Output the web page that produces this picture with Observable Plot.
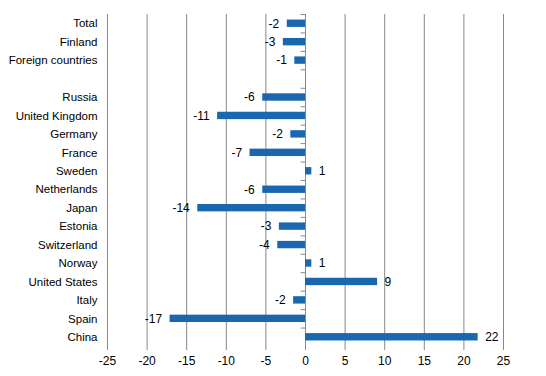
<!DOCTYPE html>
<html>
<head>
<meta charset="utf-8">
<script src="https://cdn.jsdelivr.net/npm/d3@7"></script>
<script src="https://cdn.jsdelivr.net/npm/@observablehq/plot@0.6"></script>
<style>
  html, body { margin: 0; padding: 0; background: #fff; }
  #chart svg { display: block; font-family: "Liberation Sans", Arial, sans-serif; }
</style>
</head>
<body>
<div id="chart"></div>
<script>
const categories = ["Total", "Finland", "Foreign countries", " ", "Russia", "United Kingdom", "Germany", "France", "Sweden", "Netherlands", "Japan", "Estonia", "Switzerland", "Norway", "United States", "Italy", "Spain", "China"];
const values = [-2.3, -2.8, -1.35, null, -5.4, -11.1, -1.85, -7.0, 0.8, -5.4, -13.6, -3.3, -3.5, 0.8, 9.1, -1.5, -17.1, 21.8];
const labels = ["-2", "-3", "-1", "", "-6", "-11", "-2", "-7", "1", "-6", "-14", "-3", "-4", "1", "9", "-2", "-17", "22"];
const xTicks = [-25, -20, -15, -10, -5, 0, 5, 10, 15, 20, 25];

const data = categories.map((c, i) => ({category: c, value: values[i], label: labels[i]})).filter(d => d.value != null);

const W = 546, H = 376, mt = 14, mb = 30;
const step = (H - mt - mb) / categories.length;
const grey = "#888888";
const blue = "#1a67b0";

const chart = Plot.plot({
  width: W,
  height: H,
  marginLeft: 107,
  marginRight: 43,
  marginTop: mt,
  marginBottom: mb,
  style: {fontFamily: "'Liberation Sans', Arial, sans-serif", fontSize: "12px", color: "#000", background: "#fff"},
  x: {domain: [-25, 25]},
  y: {domain: categories, paddingInner: 0.6, paddingOuter: 0.3, round: false},
  marks: [
    Plot.ruleX(xTicks, {stroke: grey, strokeWidth: 1}),
    Plot.barX(data, {x: "value", y: "category", fill: blue}),
    Plot.ruleY(categories, {y: d => d, x1: -0.55, x2: 0, dy: -step / 2, stroke: grey}),
    Plot.text(data.filter(d => d.value < 0), {x: "value", y: "category", text: "label", textAnchor: "end", dx: -8, fill: "#000", fontSize: 12}),
    Plot.text(data.filter(d => d.value >= 0), {x: "value", y: "category", text: "label", textAnchor: "start", dx: 7, fill: "#000", fontSize: 12}),
    Plot.axisX({ticks: xTicks, tickFormat: d => d < 0 ? "-" + Math.abs(d) : String(d), tickSize: 4, tickPadding: 6, line: true, stroke: grey, fill: "#000", fontSize: 12, label: null}),
    Plot.axisY({tickSize: 0, tickPadding: 10, fill: "#000", fontSize: 11.5, label: null})
  ]
});
document.getElementById("chart").appendChild(chart);
</script>
</body>
</html>
